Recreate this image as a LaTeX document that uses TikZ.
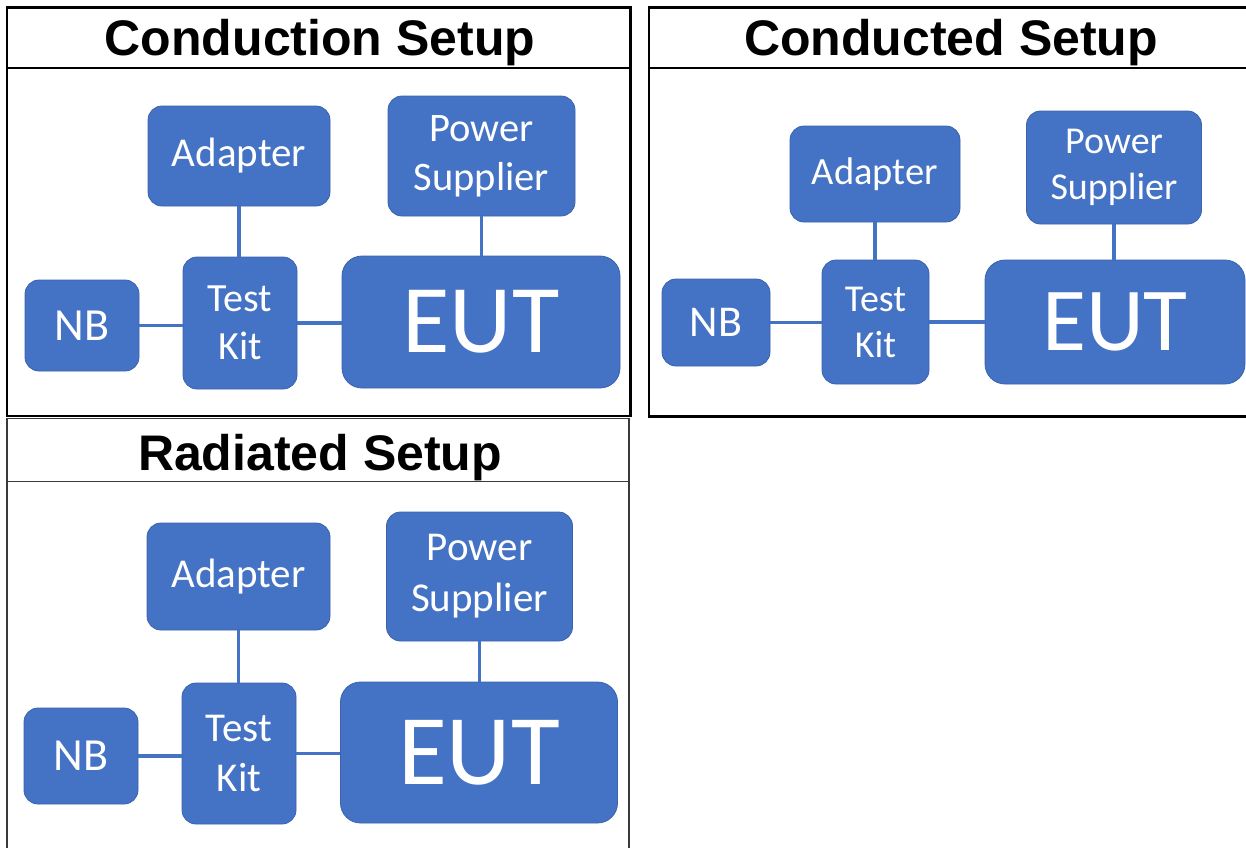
\documentclass[tikz,border=0pt]{standalone}
\usepackage{fontspec}
\setmainfont{Carlito}
\newfontfamily\headfont{Liberation Sans}
\usetikzlibrary{positioning,calc}
\definecolor{boxblue}{HTML}{4472C4}
\definecolor{boxedge}{HTML}{3B63AB}
\definecolor{thinframe}{HTML}{3A3A3A}

\begin{document}
\begin{tikzpicture}[x=1pt,y=-1pt,
    blk/.style={draw=boxedge, line width=0.8pt, fill=boxblue, text=white,
        rounded corners=14pt, align=center, inner sep=0pt},
    bigblk/.style={blk, rounded corners=20pt},
    wire/.style={draw=boxblue, line width=3.5pt},
    frame/.style={line width=2.7pt},
    ttl/.style={anchor=base, font=\headfont\bfseries\fontsize{50}{60}\selectfont}]
    \useasboundingbox (0,0) rectangle (1246,847);

    % Conduction setup (top left)
    \draw[frame] (7,7.3) rectangle (630.7,416);
    \draw[frame] (7,68) -- (630.7,68);
    \node[ttl] (t1) at (320,55) {Conduction Setup};
    \node[blk, minimum width=182pt, minimum height=100pt, font=\fontsize{41}{49}\selectfont] (ad1) at (239,156) {Adapter};
    \node[blk, minimum width=187pt, minimum height=120pt, font=\fontsize{40.5}{49}\selectfont] (ps1) at (481.5,156) {Power\\Supplier};
    \node[blk, minimum width=114pt, minimum height=91pt, font=\fontsize{46}{55}\selectfont] (nb1) at (82,325.5) {NB};
    \node[blk, minimum width=114pt, minimum height=132pt, font=\fontsize{40}{48}\selectfont] (tk1) at (240,323) {Test\\Kit};
    \node[bigblk, minimum width=278pt, minimum height=132pt, font=\fontsize{97}{110}\selectfont] (eut1) at (481,322) {EUT};
    \draw[wire] (ad1.south) -- (ad1.south |- tk1.north);
    \draw[wire] (ps1.south) -- (ps1.south |- eut1.north);
    \draw[wire] (nb1.east) -- (nb1.east -| tk1.west);
    \draw[wire] (tk1.east) -- (tk1.east -| eut1.west);

    % Conducted setup (top right)
    \draw[frame] (649,7.3) rectangle (1252,416.5);
    \draw[frame] (649,68) -- (1252,68);
    \node[ttl] (t2) at (951,55) {Conducted Setup};
    \node[blk, minimum width=170pt, minimum height=96pt, font=\fontsize{38.5}{46}\selectfont] (ad2) at (875,174) {Adapter};
    \node[blk, minimum width=175pt, minimum height=113pt, font=\fontsize{38}{46}\selectfont] (ps2) at (1114,167.5) {Power\\Supplier};
    \node[blk, minimum width=108pt, minimum height=87pt, font=\fontsize{44}{52}\selectfont] (nb2) at (716,322.5) {NB};
    \node[blk, minimum width=107pt, minimum height=124pt, font=\fontsize{38}{46}\selectfont] (tk2) at (875.5,322) {Test\\Kit};
    \node[bigblk, minimum width=260pt, minimum height=124pt, font=\fontsize{90}{100}\selectfont] (eut2) at (1115,322) {EUT};
    \draw[wire] (ad2.south) -- (ad2.south |- tk2.north);
    \draw[wire] (ps2.south) -- (ps2.south |- eut2.north);
    \draw[wire] (nb2.east) -- (nb2.east -| tk2.west);
    \draw[wire] (tk2.east) -- (tk2.east -| eut2.west);

    % Radiated setup (bottom left), thinner grey frame
    \draw[thinframe, line width=1.5pt] (7,852) -- (7,418.5) -- (629,418.5) -- (629,852);
    \draw[thinframe, line width=1.5pt] (7,481.5) -- (629,481.5);
    \node[ttl] (t3) at (320,470) {Radiated Setup};
    \node[blk, minimum width=183pt, minimum height=107pt, font=\fontsize{41}{49}\selectfont] (ad3) at (238.5,576.5) {Adapter};
    \node[blk, minimum width=186pt, minimum height=129pt, font=\fontsize{41}{51}\selectfont] (ps3) at (479.5,576.5) {Power\\Supplier};
    \node[blk, minimum width=114pt, minimum height=96pt, font=\fontsize{46}{55}\selectfont] (nb3) at (81,756) {NB};
    \node[blk, minimum width=114pt, minimum height=141pt, font=\fontsize{41}{50}\selectfont] (tk3) at (239,753.5) {Test\\Kit};
    \node[bigblk, minimum width=277pt, minimum height=141pt, font=\fontsize{100}{112}\selectfont] (eut3) at (479,752.5) {EUT};
    \draw[wire] (ad3.south) -- (ad3.south |- tk3.north);
    \draw[wire] (ps3.south) -- (ps3.south |- eut3.north);
    \draw[wire] (nb3.east) -- (nb3.east -| tk3.west);
    \draw[wire] (tk3.east) -- (tk3.east -| eut3.west);
\end{tikzpicture}
\end{document}
